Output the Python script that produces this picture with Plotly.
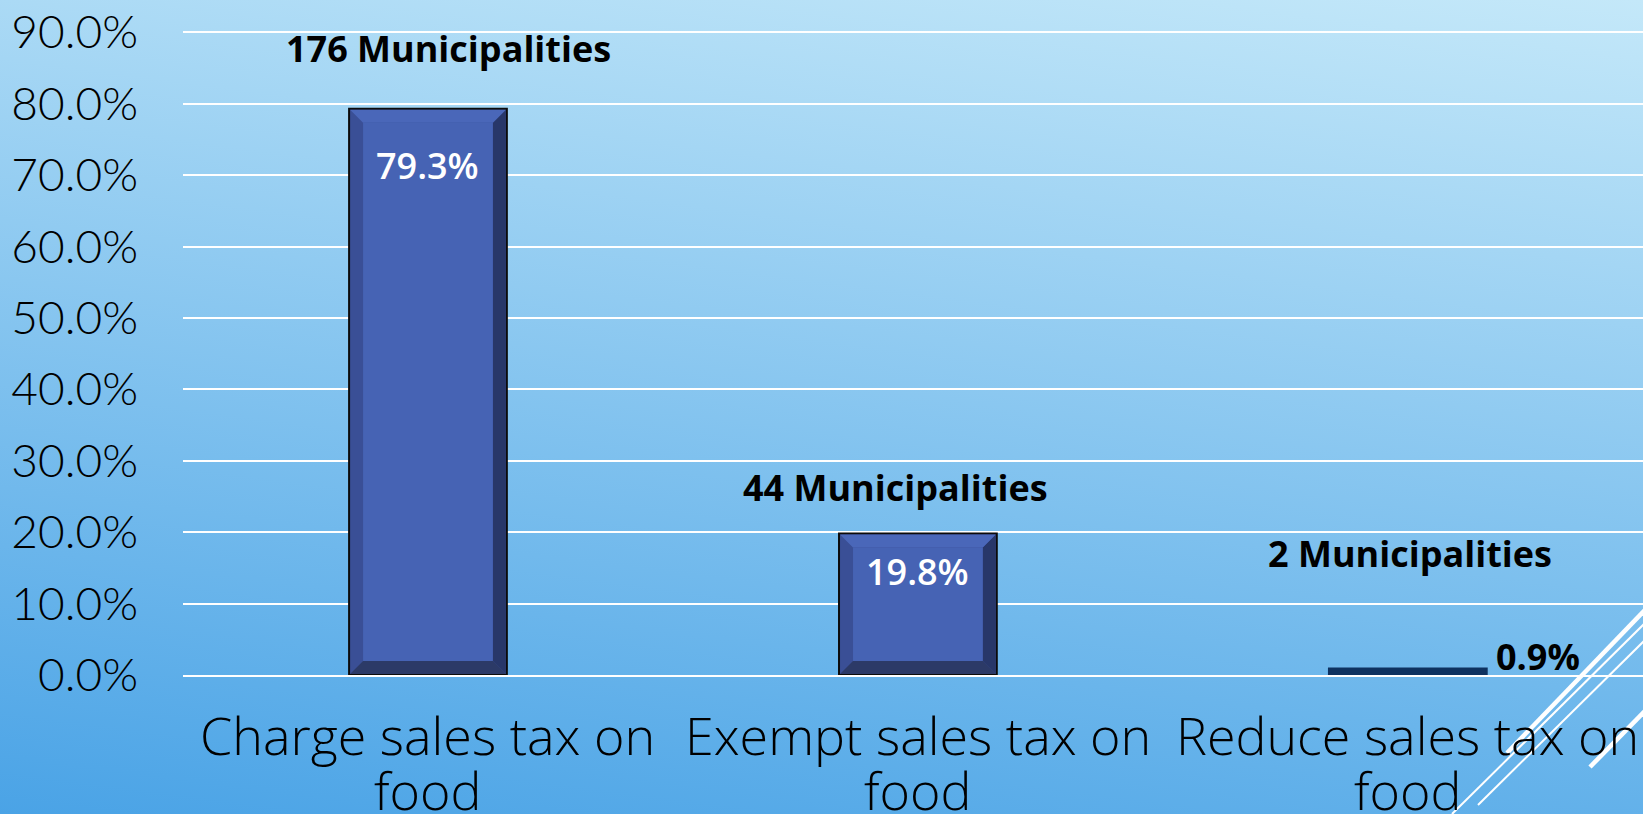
import base64
import plotly.graph_objects as go

# ---- data -------------------------------------------------------------
categories = ["Charge sales tax on food", "Exempt sales tax on food", "Reduce sales tax on food"]
shares = [79.3, 19.8, 0.9]            # percent of municipalities
municipalities = [176, 44, 2]         # number of municipalities
y_ticks = [0, 10, 20, 30, 40, 50, 60, 70, 80, 90]

# ---- geometry / style ---------------------------------------------------
W, H = 1643, 814
ML, MR, MT, MB = 183, 0, 0, 139
X_RANGE = [-0.5, 2.48]
Y_RANGE = [0, 94.53]
BAR_W = 0.322
BEVEL = 13
EDGE = 1

plot_w = W - ML - MR
plot_h = H - MT - MB
ppx = plot_w / (X_RANGE[1] - X_RANGE[0])
ppy = plot_h / (Y_RANGE[1] - Y_RANGE[0])

FACE = "#4663B4"
LEFT = "#3A4F96"
RIGHT = "#283769"
BOTTOM = "#2C3A67"
TOP = "#4A67B9"
THIN_BAR = "#0E3260"

# label placement (pixels, relative to the bar top)
count_dx = [21, -22, 2]
count_dy = [60, 46, 115]
value_dx = [0, 0, 130]
value_dy = [-57, -38, 12]
# category label lines (pixels below the baseline, line centres)
cat_first_line = 59
cat_line_gap = 55


def wrap(label):
    head, tail = label.rsplit(" ", 1)
    return [head, tail]


def path(points):
    return "M " + " L ".join(f"{x:.2f},{y:.2f}" for x, y in points) + " Z"


xs = list(range(len(categories)))
bar_px = [v * ppy for v in shares]
is_tall = [h > 3 * BEVEL for h in bar_px]

fig = go.Figure()
fig.add_trace(go.Bar(
    x=xs,
    y=shares,
    width=BAR_W,
    marker=dict(
        color=[LEFT if t else THIN_BAR for t in is_tall],
        line=dict(color=["#0b0b0b" if t else THIN_BAR for t in is_tall], width=2),
    ),
    hoverinfo="skip",
))

shapes = []
# bevelled faces on the bars
for i, (h, tall) in enumerate(zip(bar_px, is_tall)):
    if not tall:
        continue
    hw = BAR_W * ppx / 2 - EDGE
    lo, hi = EDGE, h - EDGE
    b = BEVEL
    polys = [
        (RIGHT, [(hw, lo), (hw, hi), (hw - b, hi - b), (hw - b, lo + b)]),
        (BOTTOM, [(-hw, lo), (hw, lo), (hw - b, lo + b), (-hw + b, lo + b)]),
        (TOP, [(-hw, hi), (hw, hi), (hw - b, hi - b), (-hw + b, hi - b)]),
        (FACE, [(-hw + b, lo + b), (hw - b, lo + b), (hw - b, hi - b), (-hw + b, hi - b)]),
    ]
    for color, pts in polys:
        shapes.append(dict(
            type="path", path=path(pts),
            xref="x", yref="y", xsizemode="pixel", ysizemode="pixel",
            xanchor=i, yanchor=0,
            fillcolor=color, line=dict(width=0), layer="above",
        ))


def to_paper(px, py):
    return (px - ML) / plot_w, (H - MB - py) / plot_h


# decorative white strokes in the lower right corner
decor = [
    ((1507, 753), (1643, 612), 4.5),
    ((1452, 814), (1643, 625), 2),
    ((1478, 805), (1643, 642), 2),
    ((1590, 767), (1643, 713), 4.5),
]
for (x0, y0), (x1, y1), w in decor:
    # run the stroke past the right edge
    k = (1665 - x0) / (x1 - x0)
    ex, ey = x0 + (x1 - x0) * k, y0 + (y1 - y0) * k
    p0, p1 = to_paper(x0, y0), to_paper(ex, ey)
    shapes.append(dict(
        type="line", xref="paper", yref="paper",
        x0=p0[0], y0=p0[1], x1=p1[0], y1=p1[1],
        line=dict(color="white", width=w), layer="above",
    ))

annotations = []
for i, (v, n) in enumerate(zip(shares, municipalities)):
    annotations.append(dict(
        x=i, y=v, xref="x", yref="y", text=f"{n} Municipalities",
        showarrow=False, xshift=count_dx[i], yshift=count_dy[i],
        xanchor="center", yanchor="middle",
        font=dict(family="Open Sans", size=36, color="black", weight="bold"),
    ))
    if is_tall[i]:
        font = dict(family="Open Sans", size=36, color="white", weight=600)
    else:
        font = dict(family="Open Sans", size=36, color="black", weight="bold")
    annotations.append(dict(
        x=i, y=v, xref="x", yref="y", text=f"{v:.1f}%",
        showarrow=False, xshift=value_dx[i], yshift=value_dy[i],
        xanchor="center", yanchor="middle", font=font,
    ))

# category names, two lines under each bar
for i, name in enumerate(categories):
    for j, line in enumerate(wrap(name)):
        annotations.append(dict(
            x=i, y=0, xref="x", yref="y", text=line,
            showarrow=False, yshift=-(cat_first_line + cat_line_gap * j),
            xanchor="center", yanchor="middle",
            font=dict(family="Open Sans", size=52, color="black", weight=300),
        ))

# soft blue gradient backdrop
svg = (
    f'<svg xmlns="http://www.w3.org/2000/svg" width="{W}" height="{H}">'
    '<defs><linearGradient id="g" gradientUnits="userSpaceOnUse" '
    f'x1="0" y1="{H}" x2="129" y2="-194">'
    '<stop offset="0" stop-color="#4AA3E6"/><stop offset="1" stop-color="#C4E8F9"/>'
    '</linearGradient></defs>'
    f'<rect width="{W}" height="{H}" fill="url(#g)"/></svg>'
)
bg_src = "data:image/svg+xml;base64," + base64.b64encode(svg.encode()).decode()

fig.update_layout(
    width=W, height=H, autosize=False,
    margin=dict(l=ML, r=MR, t=MT, b=MB, pad=0),
    paper_bgcolor="#7EC0EE",
    plot_bgcolor="rgba(0,0,0,0)",
    showlegend=False,
    shapes=shapes,
    annotations=annotations,
    images=[dict(
        source=bg_src, xref="paper", yref="paper",
        x=-ML / plot_w, y=1 + MT / plot_h,
        sizex=W / plot_w, sizey=H / plot_h,
        xanchor="left", yanchor="top", sizing="stretch", layer="below",
    )],
    xaxis=dict(
        range=X_RANGE, tickmode="array", tickvals=xs,
        showticklabels=False,
        showgrid=False, zeroline=False,
        showline=True, linecolor="white", linewidth=2, layer="above traces",
        ticks="",
    ),
    yaxis=dict(
        range=Y_RANGE,
        tickmode="array", tickvals=y_ticks,
        ticktext=[f"{t:.1f}%" for t in y_ticks],
        tickfont=dict(family="Lato", size=46, color="black", weight=300),
        showgrid=True, gridcolor="white", gridwidth=2,
        zeroline=False, showline=False, ticks="", ticklabelstandoff=44,
    ),
)

fig.write_html("out.html")
